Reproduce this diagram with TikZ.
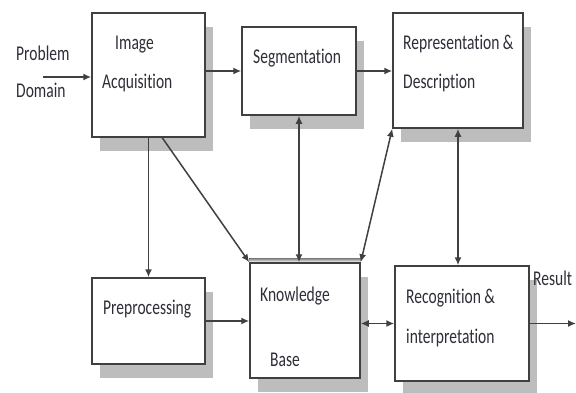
\documentclass[tikz,border=0pt]{standalone}
\usepackage{fontspec}
\setmainfont{Carlito}[FakeStretch=0.74,Ligatures=NoCommon]
\usetikzlibrary{arrows.meta,shadows,calc}
\definecolor{edge}{HTML}{404040}
\definecolor{shade}{HTML}{BDBDBD}
\definecolor{ink}{HTML}{2E2E38}
\begin{document}
\begin{tikzpicture}[x=1bp,y=-1bp,
  box/.style={draw=edge, line width=1.5bp, fill=white, inner sep=0pt,
    drop shadow={shadow xshift=8bp, shadow yshift=-14bp, opacity=1, fill=shade}},
  lbl/.style={anchor=base west, inner sep=0pt, text=ink, font=\fontsize{21bp}{24bp}\selectfont},
  arr/.style={draw=edge, line width=1.5bp, -{Latex[length=8bp,width=7bp]}},
  darr/.style={draw=edge, line width=1.5bp, {Latex[length=8bp,width=7bp]}-{Latex[length=8bp,width=7bp]}}]
\useasboundingbox (0,0) rectangle (576,392);
% boxes
\node[box, minimum width=113bp, minimum height=124bp] (ia) at (148.5,75) {};
\node[box, minimum width=114bp, minimum height=88bp] (seg) at (299,71) {};
\node[box, minimum width=130bp, minimum height=115bp] (rep) at (458,70.5) {};
\node[box, minimum width=113bp, minimum height=86bp] (prep) at (148.5,321) {};
\node[box, minimum width=110bp, minimum height=115bp] (kb) at (305,320.5) {};
\node[box, minimum width=134bp, minimum height=115bp] (rec) at (462,323.5) {};
\fill[shade] (kb.north west) rectangle ([yshift=4bp]kb.north east);
\draw[edge, line width=1.5bp] (kb.north west) -- (kb.north east);
% labels
\node[lbl] (t1) at (16,60) {Problem};
\node[lbl] (t2) at (16,97) {Domain};
\node[lbl] (t3) at (115,49) {Image};
\node[lbl] (t4) at (102,88) {Acquisition};
\node[lbl] (t5) at (253,63) {Segmentation};
\node[lbl] (t6) at (403,49) {Representation \&};
\node[lbl] (t7) at (403,88) {Description};
\node[lbl] (t8) at (103,314) {Preprocessing};
\node[lbl] (t9) at (260,301) {Knowledge};
\node[lbl] (t10) at (270,366) {Base};
\node[lbl] (t11) at (406,303) {Recognition \&};
\node[lbl] (t12) at (406,343) {interpretation};
\node[lbl] (t13) at (533,285) {Result};
% connectors
\coordinate (pd) at (43,77);
\coordinate (res) at (576,323.5);
\coordinate (iad) at ([xshift=71bp]ia.south west);
\draw[arr] (pd) -- (pd -| ia.west);
\draw[arr] (ia.east |- seg.west) -- (seg.west);
\draw[arr] (seg.east) -- (seg.east -| rep.west);
\draw[arr] (ia.south) -- (prep.north);
\draw[arr] (iad) -- (kb.north west);
\draw[darr] (seg.south) -- (seg.south |- kb.north);
\draw[darr] (kb.north east) -- (rep.south west);
\draw[darr] (rep.south) -- (rep.south |- rec.north);
\draw[arr] (prep.east) -- (prep.east -| kb.west);
\draw[darr] (kb.east |- rec.west) -- (rec.west);
\draw[arr] (rec.east) -- (res);
\end{tikzpicture}
\end{document}
